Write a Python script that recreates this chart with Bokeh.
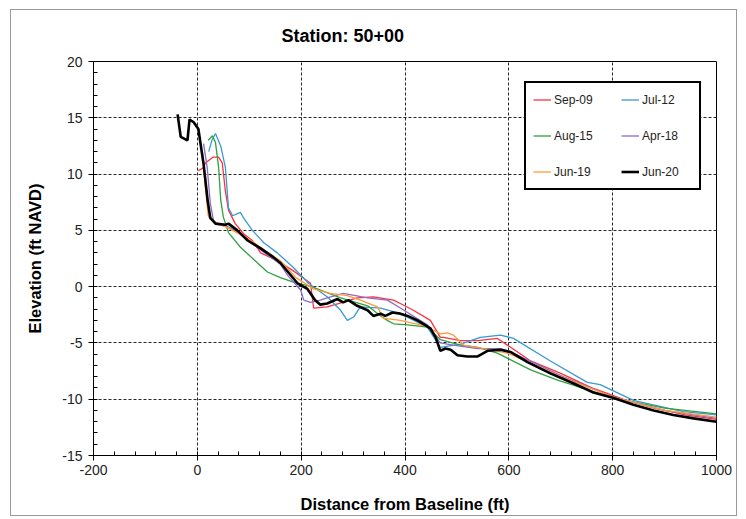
from bokeh.plotting import figure
from bokeh.models import Range1d, SingleIntervalTicker, Legend, LegendItem, PrintfTickFormatter
from bokeh.embed import file_html
from bokeh.resources import INLINE

# ---- data ----
sep09_x = [2, 10, 16, 30, 41, 48, 54, 60, 73, 89, 106, 122, 154, 185, 212, 218, 224, 250, 280, 308, 339,
           378, 391, 416, 449, 468, 474, 507, 540, 578, 607, 642, 700, 760, 820, 880, 940, 1000]
sep09_y = [10.3, 10.5, 11.0, 11.5, 11.5, 11.0, 8.5, 6.8, 5.6, 4.7, 4.1, 3.0, 2.3, 1.4, 0.5, 0.3, -1.9, -1.8,
           -1.4, -1.0, -0.9, -1.2, -1.5, -2.1, -3.0, -4.5, -4.5, -4.8, -4.8, -4.6, -5.5, -6.6, -7.7, -9.0,
           -10.0, -10.8, -11.4, -11.8]

jul12_x = [22, 28, 35, 45, 54, 60, 68, 83, 89, 106, 128, 154, 185, 214, 250, 276, 289, 301, 314, 353, 391,
           443, 468, 507, 545, 584, 609, 680, 751, 776, 840, 936, 1000]
jul12_y = [12.0, 13.0, 13.6, 12.5, 10.6, 7.0, 6.3, 6.6, 6.1, 5.0, 3.9, 3.0, 1.7, 0.3, -0.9, -2.1, -3.0, -2.7,
           -1.8, -1.9, -2.4, -3.6, -5.4, -5.1, -4.5, -4.3, -4.6, -6.6, -8.5, -8.7, -10.1, -11.1, -11.4]

aug15_x = [21, 29, 35, 41, 45, 50, 60, 83, 116, 135, 160, 185, 212, 231, 276, 328, 353, 366, 378, 405, 443,
           468, 507, 540, 578, 642, 694, 802, 900, 1000]
aug15_y = [13.0, 13.4, 12.8, 10.6, 7.7, 6.2, 4.8, 3.5, 2.1, 1.3, 0.8, 0.4, 0.1, -0.2, -1.0, -1.7, -2.6, -3.0,
           -3.3, -3.4, -3.6, -4.7, -5.2, -5.4, -5.9, -7.4, -8.3, -9.9, -10.8, -11.3]

apr18_x = [12, 19, 25, 31, 40, 60, 80, 100, 130, 160, 174, 199, 205, 218, 237, 250, 281, 328, 366, 391, 443,
           468, 493, 540, 584, 603, 640, 700, 800, 900, 1000]
apr18_y = [12.7, 10.6, 7.4, 5.9, 5.5, 5.3, 4.8, 4.0, 3.0, 2.0, 1.0, -0.3, -1.2, -1.4, -1.2, -1.0, -0.6, -1.0,
           -1.2, -1.9, -3.4, -5.0, -5.2, -5.5, -5.5, -5.8, -6.6, -7.9, -9.8, -11.0, -11.7]

jun19_x = [10, 15, 21, 25, 40, 60, 100, 130, 160, 190, 224, 256, 289, 314, 347, 358, 391, 410, 440, 468, 482,
           493, 513, 540, 597, 642, 700, 800, 900, 1000]
jun19_y = [12.0, 9.0, 6.3, 6.0, 5.6, 5.2, 4.2, 3.2, 2.3, 0.8, -0.2, -0.6, -0.8, -1.2, -1.8, -2.8, -3.0, -3.2,
           -3.5, -4.2, -4.1, -4.3, -5.2, -5.4, -5.9, -6.8, -8.0, -9.8, -11.0, -11.6]

jun20_x = [-38, -32, -19, -15, -7, 2, 12, 20, 25, 35, 54, 60, 77, 97, 122, 147, 160, 193, 212, 227, 237, 250,
           270, 281, 291, 308, 328, 339, 353, 362, 376, 391, 405, 424, 449, 459, 468, 478, 488, 501, 520, 540,
           559, 584, 603, 636, 680, 725, 763, 802, 840, 879, 917, 956, 1000]
jun20_y = [15.3, 13.3, 13.0, 14.85, 14.6, 14.0, 10.9, 7.6, 6.1, 5.6, 5.5, 5.6, 5.0, 4.1, 3.4, 2.6, 2.1, 0.3,
           -0.2, -1.2, -1.6, -1.5, -1.1, -1.4, -1.2, -1.7, -2.1, -2.6, -2.4, -2.6, -2.3, -2.4, -2.6, -3.0,
           -3.7, -4.5, -5.7, -5.5, -5.6, -6.1, -6.2, -6.2, -5.7, -5.6, -5.8, -6.7, -7.7, -8.6, -9.4, -9.9,
           -10.5, -11.0, -11.4, -11.7, -12.0]

labels = ["Sep-09", "Jul-12", "Aug-15", "Apr-18", "Jun-19", "Jun-20"]
colors = ["#ff3040", "#3a9ad0", "#30a040", "#8a6cc8", "#ff9a3a", "#000000"]
widths = [1.3, 1.3, 1.3, 1.3, 1.3, 2.6]
xs = [sep09_x, jul12_x, aug15_x, apr18_x, jun19_x, jun20_x]
ys = [sep09_y, jul12_y, aug15_y, apr18_y, jun19_y, jun20_y]

x_ticks_interval = 200
y_ticks_interval = 5

FONT = "Liberation Sans"

p = figure(width=727, height=507, output_backend="svg", toolbar_location=None,
           x_range=Range1d(-200, 1000), y_range=Range1d(-15, 20),
           min_border_left=82, min_border_right=22, min_border_top=51, min_border_bottom=62,
           styles={"border": "1px solid #999999", "margin-left": "10px", "margin-top": "9px"})

p.title.text = "Station: 50+00"
p.title.text_font = FONT
p.title.text_font_size = "18px"
p.title.text_font_style = "bold"
p.title.text_color = "black"
p.title.align = "left"
p.title.vertical_align = "top"
p.title.offset = 188
p.title.standoff = 28

p.outline_line_color = "black"
p.outline_line_width = 1

p.xaxis.ticker = SingleIntervalTicker(interval=x_ticks_interval, num_minor_ticks=5)
p.yaxis.ticker = SingleIntervalTicker(interval=y_ticks_interval, num_minor_ticks=5)
p.xaxis.formatter = PrintfTickFormatter(format="%d")
p.yaxis.formatter = PrintfTickFormatter(format="%d")

for ax in (p.xaxis[0], p.yaxis[0]):
    ax.axis_line_color = "black"
    ax.major_tick_line_color = "black"
    ax.minor_tick_line_color = "black"
    ax.major_tick_in = 0
    ax.major_tick_out = 5
    ax.minor_tick_in = 4
    ax.minor_tick_out = 0
    ax.major_label_text_font = FONT
    ax.major_label_text_font_size = "14px"
    ax.major_label_text_color = "#222222"
    ax.axis_label_text_font = FONT
    ax.axis_label_text_font_size = "16.5px"
    ax.axis_label_text_font_style = "bold"
    ax.axis_label_text_color = "#000000"

p.xaxis.axis_label = "Distance from Baseline (ft)"
p.yaxis.axis_label = "Elevation (ft NAVD)"
p.xaxis.major_label_standoff = 4
p.xaxis.axis_label_standoff = 17
p.yaxis.major_label_standoff = 6
p.yaxis.axis_label_standoff = 15

p.grid.grid_line_color = "black"
p.grid.grid_line_dash = "3 2"
p.grid.grid_line_alpha = 0.85

renderers = []
for x, y, c, w in zip(xs, ys, colors, widths):
    r = p.line(x, y, line_color=c, line_width=w)
    renderers.append(r)

items = {lab: LegendItem(label=lab, renderers=[r]) for lab, r in zip(labels, renderers)}
# column-major layout in Bokeh: first column Sep-09, Aug-15, Jun-19
legend_order = ["Sep-09", "Aug-15", "Jun-19", "Jul-12", "Apr-18", "Jun-20"]
legend = Legend(items=[items[k] for k in legend_order], ncols=2, location=(431, 265),
                border_line_color="black", border_line_width=2, border_line_alpha=1,
                background_fill_color="white", background_fill_alpha=1,
                padding=7, spacing=17, margin=0,
                glyph_width=18, glyph_height=19, label_height=19, label_width=50,
                label_standoff=3, label_text_font=FONT, label_text_font_size="12px",
                label_text_color="#222222")
p.add_layout(legend, "center")

open("out.html", "w").write(file_html(p, INLINE))
